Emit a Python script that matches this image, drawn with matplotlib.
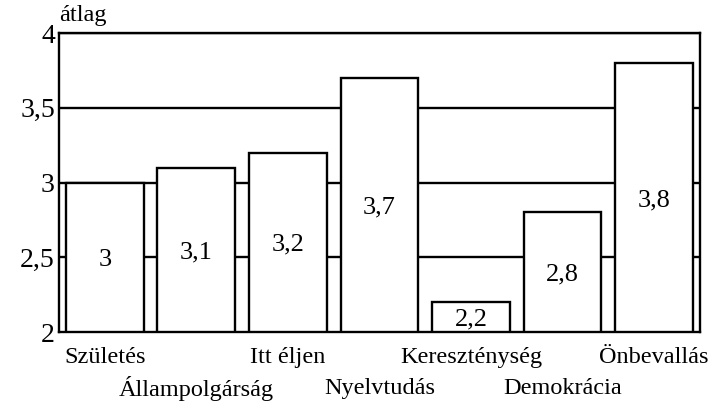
import matplotlib
matplotlib.use('Agg')
import matplotlib.pyplot as plt

categories = ['Születés', 'Állampolgárság', 'Itt éljen', 'Nyelvtudás',
              'Kereszténység', 'Demokrácia', 'Önbevallás']
values = [3.0, 3.1, 3.2, 3.7, 2.2, 2.8, 3.8]
value_labels = ['3', '3,1', '3,2', '3,7', '2,2', '2,8', '3,8']
yticks = [2, 2.5, 3, 3.5, 4]
ytick_labels = ['2', '2,5', '3', '3,5', '4']

plt.rcParams['font.family'] = ['Liberation Serif', 'DejaVu Serif']

fig = plt.figure(figsize=(7.12, 4.08), dpi=100)
ax = fig.add_axes([0.0829, 0.186, 0.9, 0.733])

x = list(range(len(categories)))
ax.bar(x, [v - 2 for v in values], bottom=2, width=0.85,
       color='white', edgecolor='black', linewidth=1.7, zorder=3)

# value labels sit in the middle of each bar
for i, v in enumerate(values):
    ax.text(i, (2 + v) / 2, value_labels[i], ha='center', va='center_baseline',
            fontsize=19, zorder=4)

ax.set_xlim(-0.5, 6.5)
ax.set_ylim(2, 4)
ax.set_yticks(yticks)
ax.set_yticklabels(ytick_labels, fontsize=20)
ax.tick_params(axis='y', length=0, pad=3)
ax.set_xticks([])

for y in yticks[1:]:
    ax.axhline(y, color='black', linewidth=1.7, zorder=1)

for s in ax.spines.values():
    s.set_linewidth(1.7)

# staggered category names
for i, name in enumerate(categories):
    ty = -0.085 if i % 2 == 0 else -0.19
    ax.text(i, ty, name, transform=ax.get_xaxis_transform(),
            ha='center', va='center', fontsize=17.5)

fig.text(0.083, 0.962, 'átlag', ha='left', va='center', fontsize=17.5)

fig.savefig('out.png', dpi=100)
